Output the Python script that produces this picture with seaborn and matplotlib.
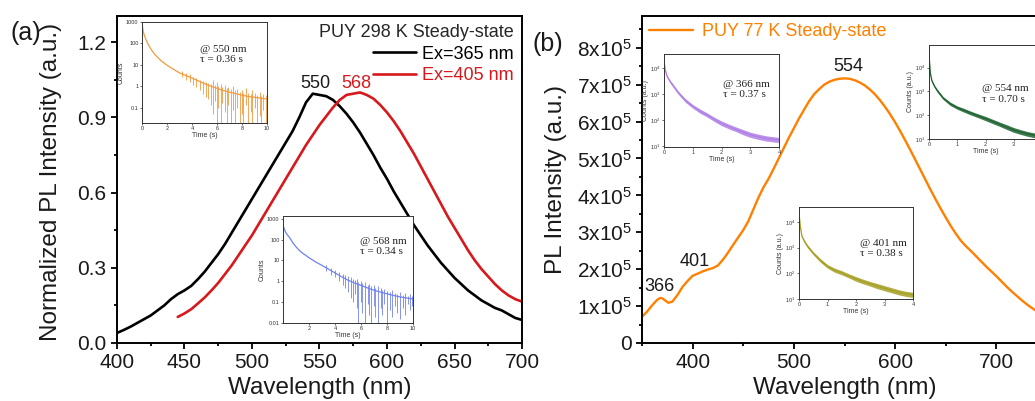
import numpy as np
import pandas as pd
import matplotlib
matplotlib.use("Agg")
import matplotlib.pyplot as plt
from matplotlib.ticker import MultipleLocator, FixedLocator, FuncFormatter, NullLocator
import seaborn as sns

# ---------------- data ----------------
# panel (a): normalized PL at 298 K
wl_black = [400, 405, 410, 415, 420, 425, 430, 435, 440, 445, 450, 455, 460, 465, 470, 475, 480, 485, 490, 495,
            500, 505, 510, 515, 520, 525, 530, 535, 540, 545, 550, 555, 560, 565, 570, 575, 580, 585, 590, 595,
            600, 605, 610, 615, 620, 625, 630, 635, 640, 645, 650, 655, 660, 665, 670, 675, 680, 685, 690, 695, 700]
pl_black = [0.040, 0.052, 0.065, 0.080, 0.095, 0.110, 0.130, 0.150, 0.175, 0.195, 0.210, 0.228, 0.255, 0.285, 0.320,
            0.355, 0.395, 0.440, 0.485, 0.530, 0.575, 0.620, 0.665, 0.710, 0.755, 0.800, 0.845, 0.900, 0.960, 0.995,
            0.990, 0.985, 0.970, 0.945, 0.915, 0.880, 0.840, 0.795, 0.750, 0.700, 0.655, 0.605, 0.560, 0.515, 0.470,
            0.430, 0.390, 0.355, 0.320, 0.290, 0.260, 0.235, 0.210, 0.190, 0.170, 0.155, 0.140, 0.130, 0.115, 0.100, 0.092]
wl_red = [445, 450, 455, 460, 465, 470, 475, 480, 485, 490, 495, 500, 505, 510, 515, 520, 525, 530, 535, 540,
          545, 550, 555, 560, 565, 570, 575, 580, 585, 590, 595, 600, 605, 610, 615, 620, 625, 630, 635, 640,
          645, 650, 655, 660, 665, 670, 675, 680, 685, 690, 695, 700]
pl_red = [0.104, 0.118, 0.135, 0.158, 0.182, 0.210, 0.240, 0.275, 0.310, 0.350, 0.390, 0.430, 0.475, 0.520, 0.565,
          0.610, 0.655, 0.700, 0.745, 0.790, 0.830, 0.870, 0.905, 0.940, 0.970, 0.990, 0.995, 1.000, 0.990, 0.975,
          0.950, 0.920, 0.885, 0.845, 0.800, 0.755, 0.705, 0.655, 0.605, 0.555, 0.505, 0.460, 0.415, 0.370, 0.330,
          0.295, 0.265, 0.235, 0.210, 0.190, 0.175, 0.165]

# panel (b): PL at 77 K (units of 1e5)
wl_orange = [350, 355, 360, 365, 368, 370, 373, 376, 380, 385, 390, 395, 400, 405, 410, 415, 420, 425, 430, 435,
             440, 445, 450, 455, 460, 465, 470, 475, 480, 485, 490, 495, 500, 505, 510, 515, 520, 525, 530, 535,
             540, 545, 550, 555, 560, 565, 570, 575, 580, 585, 590, 595, 600, 605, 610, 615, 620, 625, 630, 635,
             640, 645, 650, 655, 660, 665, 670, 675, 680, 685, 690, 695, 700, 705, 710, 715, 720, 725, 730, 735,
             740, 745, 750]
pl_orange_1e5 = [0.71, 0.85, 1.02, 1.17, 1.22, 1.21, 1.15, 1.09, 1.12, 1.30, 1.52, 1.68, 1.82, 1.88, 1.94, 1.99,
                 2.03, 2.10, 2.26, 2.45, 2.66, 2.86, 3.06, 3.30, 3.62, 3.94, 4.22, 4.45, 4.72, 5.00, 5.28, 5.56,
                 5.82, 6.08, 6.32, 6.55, 6.74, 6.88, 7.00, 7.08, 7.13, 7.16, 7.17, 7.16, 7.12, 7.06, 6.98, 6.87,
                 6.74, 6.58, 6.40, 6.20, 5.98, 5.74, 5.49, 5.23, 4.96, 4.69, 4.42, 4.15, 3.89, 3.64, 3.40, 3.17,
                 2.96, 2.77, 2.62, 2.49, 2.35, 2.21, 2.07, 1.94, 1.81, 1.67, 1.53, 1.40, 1.28, 1.16, 1.05, 0.95,
                 0.86, 0.78, 0.71]

# decay insets (log10 counts)
t_long = [0, 0.05, 0.1, 0.2, 0.3, 0.5, 0.75, 1.0, 1.25, 1.5, 2.0, 2.5, 3.0, 3.5, 4.0, 4.5, 5.0, 5.5, 6.0, 6.5,
          7.0, 7.5, 8.0, 8.5, 9.0, 9.5, 10]
log_550 = [3.0, 2.75, 2.55, 2.35, 2.2, 1.95, 1.7, 1.5, 1.35, 1.2, 0.98, 0.8, 0.62, 0.5, 0.38, 0.25, 0.12, 0.0,
           -0.1, -0.2, -0.28, -0.35, -0.42, -0.48, -0.52, -0.56, -0.6]
log_568 = [2.75, 2.6, 2.5, 2.35, 2.25, 2.1, 1.85, 1.65, 1.48, 1.35, 1.13, 0.93, 0.76, 0.58, 0.4, 0.22, 0.05, -0.08,
           -0.2, -0.32, -0.43, -0.52, -0.6, -0.68, -0.75, -0.8, -0.85]
spk550_t = [3.2, 3.5, 3.8, 4.1, 4.3, 4.6, 4.9, 5.1, 5.3, 5.5, 5.7, 5.8, 6.0, 6.1, 6.3, 6.4, 6.6, 6.8, 6.9, 7.1,
            7.3, 7.4, 7.6, 7.8, 8.0, 8.1, 8.3, 8.5, 8.7, 8.8, 9.0, 9.2, 9.4, 9.5, 9.7, 9.9]
spk550_lo = [0.45, 0.3, 0.2, 0.05, -0.05, -0.2, -0.35, -0.5, -0.6, -0.9, -1.3, -0.7, -1.7, -1.0, -1.7, -0.8, -1.2,
             -1.7, -0.9, -1.7, -1.1, -1.7, -1.0, -1.7, -1.3, -1.7, -0.9, -1.7, -1.2, -1.7, -1.0, -1.7, -1.4, -1.7,
             -1.1, -1.7]
spk550_hi = [0.72, 0.62, 0.55, 0.45, 0.4, 0.3, 0.25, 0.2, 0.15, 0.1, 0.3, 0.05, 0.2, 0.0, 0.1, -0.05, 0.05, -0.1,
             -0.05, -0.15, 0.0, -0.2, -0.15, -0.25, -0.2, -0.3, -0.1, -0.3, -0.35, -0.2, -0.3, -0.4, -0.25, -0.45,
             -0.35, -0.4]
spk568_t = [3.3, 3.7, 4.0, 4.3, 4.6, 4.8, 5.0, 5.2, 5.4, 5.5, 5.7, 5.8, 6.0, 6.1, 6.3, 6.5, 6.6, 6.8, 7.0, 7.1,
            7.3, 7.5, 7.6, 7.8, 8.0, 8.2, 8.4, 8.6, 8.8, 9.0, 9.2, 9.4, 9.6, 9.8, 9.95]
spk568_lo = [0.5, 0.3, 0.2, 0.0, -0.2, -0.3, -0.5, -0.8, -1.0, -0.6, -1.3, -2.0, -1.0, -1.5, -2.0, -1.1, -1.6, -2.0,
             -1.2, -1.7, -2.0, -1.3, -1.6, -1.1, -2.0, -1.4, -1.7, -1.2, -1.5, -1.8, -1.3, -1.6, -1.1, -1.4, -1.2]
spk568_hi = [0.8, 0.65, 0.55, 0.45, 0.35, 0.3, 0.25, 0.2, 0.1, 0.05, 0.1, -0.05, 0.0, -0.1, -0.05, -0.2, -0.15,
             -0.25, -0.2, -0.3, -0.25, -0.3, -0.4, -0.35, -0.45, -0.5, -0.4, -0.55, -0.6, -0.5, -0.65, -0.55, -0.7,
             -0.6, -0.7]

t_short = [0, 0.02, 0.05, 0.1, 0.2, 0.3, 0.5, 0.75, 1.0, 1.25, 1.5, 1.75, 2.0, 2.25, 2.5, 2.75, 3.0, 3.25, 3.5,
           3.75, 4.0]
log_366 = [4.5, 4.1, 3.9, 3.7, 3.5, 3.35, 3.05, 2.75, 2.53, 2.35, 2.2, 2.03, 1.88, 1.76, 1.65, 1.54, 1.44, 1.37,
           1.31, 1.27, 1.24]
log_554 = [4.85, 4.2, 3.75, 3.45, 3.2, 3.02, 2.72, 2.48, 2.32, 2.2, 2.08, 1.97, 1.86, 1.74, 1.62, 1.5, 1.38, 1.29,
           1.21, 1.15, 1.1]
log_401 = [4.5, 4.1, 3.8, 3.45, 3.22, 3.05, 2.78, 2.5, 2.27, 2.12, 2.02, 1.9, 1.78, 1.68, 1.59, 1.5, 1.42, 1.34,
           1.26, 1.2, 1.16]
noise_halfwidth = [0.0, 0.02, 0.03, 0.04, 0.05, 0.06, 0.06, 0.07, 0.07, 0.08, 0.08, 0.08, 0.09, 0.09, 0.09, 0.1,
                   0.1, 0.1, 0.1, 0.1, 0.1]

# ---------------- style ----------------
sns.set_theme(style="ticks")
plt.rcParams['font.family'] = ['Liberation Sans', 'DejaVu Sans']
plt.rcParams['mathtext.fontset'] = 'custom'
plt.rcParams['mathtext.rm'] = 'Liberation Sans'
plt.rcParams['mathtext.it'] = 'Liberation Sans:italic'
plt.rcParams['mathtext.bf'] = 'Liberation Sans:bold'

W, H = 1035, 401
fig = plt.figure(figsize=(W / 100, H / 100), dpi=100)


def box(l, t, r, b):
    return [l / W, 1 - b / H, (r - l) / W, (b - t) / H]


def style_main(ax):
    for s in ax.spines.values():
        s.set_visible(True)
        s.set_color('black')
        s.set_linewidth(1.4)
    ax.tick_params(which='both', direction='out', color='black', width=1.3, labelsize=15,
                   labelcolor='#1a1a1a', top=False, right=False)
    ax.tick_params(which='major', length=4.5, pad=3)
    ax.tick_params(which='minor', length=2.5)


ORANGE = '#FF8000'
RED = '#D7191C'

# ---------------- panel (a) ----------------
axA = fig.add_axes(box(117, 16, 522, 343))
sns.lineplot(x=wl_black, y=pl_black, ax=axA, color='black', lw=1.9, label='Ex=365 nm')
sns.lineplot(x=wl_red, y=pl_red, ax=axA, color=RED, lw=1.9, label='Ex=405 nm')
axA.set_xlim(400, 700)
axA.set_ylim(0, 1.305)
axA.xaxis.set_major_locator(MultipleLocator(50))
axA.xaxis.set_minor_locator(MultipleLocator(25))
axA.yaxis.set_major_locator(MultipleLocator(0.3))
axA.yaxis.set_minor_locator(MultipleLocator(0.15))
axA.yaxis.set_major_formatter(FuncFormatter(lambda v, p: f"{v:.1f}"))
style_main(axA)
axA.set_xlabel('Wavelength (nm)', fontsize=17.5, color='#1a1a1a')
axA.set_ylabel('Normalized PL Intensity (a.u.)', fontsize=17.5, color='#1a1a1a')
axA.yaxis.set_label_coords(-0.136, 0.494)
axA.xaxis.set_label_coords(0.5, -0.105)
leg = axA.legend(title='PUY 298 K Steady-state', loc='upper right', frameon=False, fontsize=13,
                 title_fontsize=13, alignment='right', handlelength=2.4, handletextpad=0.35,
                 labelspacing=0.25, borderaxespad=0.15, borderpad=0.3)
for txt, col in zip(leg.get_texts(), ['black', RED]):
    txt.set_color(col)
axA.text(547, 1.037, '550', ha='center', va='center', fontsize=13, color='#1a1a1a')
axA.text(577, 1.037, '568', ha='center', va='center', fontsize=13, color=RED)

# ---------------- panel (b) ----------------
axB = fig.add_axes(box(642, 16, 1047, 343))
sns.lineplot(x=wl_orange, y=np.array(pl_orange_1e5) * 1e5, ax=axB, color=ORANGE, lw=1.7,
             label='PUY 77 K Steady-state')
axB.set_xlim(350, 750)
axB.set_ylim(0, 8.86e5)
axB.xaxis.set_major_locator(MultipleLocator(100))
axB.xaxis.set_minor_locator(MultipleLocator(50))
axB.yaxis.set_major_locator(MultipleLocator(1e5))
axB.yaxis.set_minor_locator(MultipleLocator(0.5e5))


def sci_fmt(v, p):
    n = int(round(v / 1e5))
    return '0' if n == 0 else f"{n}x10$^5$"


axB.yaxis.set_major_formatter(FuncFormatter(sci_fmt))
style_main(axB)
axB.set_xlabel('Wavelength (nm)', fontsize=17.5, color='#1a1a1a')
axB.set_ylabel('PL Intensity (a.u.)', fontsize=17.5, color='#1a1a1a')
axB.yaxis.set_label_coords(-0.185, 0.5)
axB.xaxis.set_label_coords(0.5, -0.105)
legB = axB.legend(loc='upper left', frameon=False, fontsize=13, handlelength=2.4, handletextpad=0.5,
                  borderaxespad=0.1, borderpad=0.3)
for txt in legB.get_texts():
    txt.set_color(ORANGE)
axB.text(554, 7.5e5, '554', ha='center', va='center', fontsize=13, color='#1a1a1a')
axB.text(367, 1.52e5, '366', ha='center', va='center', fontsize=13, color='#1a1a1a')
axB.text(402, 2.2e5, '401', ha='center', va='center', fontsize=13, color='#1a1a1a')

fig.text(10 / W, 1 - 33 / H, '(a)', fontsize=18, ha='left', va='center', color='#1a1a1a')
fig.text(533 / W, 1 - 44 / H, '(b)', fontsize=18, ha='left', va='center', color='#1a1a1a')


# ---------------- insets ----------------
def style_inset(ax, ylabel):
    ax.set_facecolor('white')
    for s in ax.spines.values():
        s.set_visible(True)
        s.set_color('#333333')
        s.set_linewidth(0.7)
    ax.tick_params(which='both', direction='out', length=1.5, width=0.5, labelsize=4, pad=1,
                   color='#333333', labelcolor='#333333', top=False, right=False)
    ax.yaxis.set_minor_locator(NullLocator())
    ax.set_xlabel('Time (s)', fontsize=5, labelpad=0.5, color='#333333')
    ax.set_ylabel(ylabel, fontsize=5, labelpad=1, color='#333333')


def inset_text(ax, x, y, lines):
    ax.text(x, y, lines, transform=ax.transAxes, ha='left', va='top', fontsize=8, linespacing=1.15,
            family=['Liberation Serif', 'DejaVu Serif'], color='#222222')


# inset 1: 550 nm
in1 = fig.add_axes(box(142, 22, 267, 123))
sns.lineplot(x=t_long, y=10 ** np.array(log_550), ax=in1, color='#F39A3C', lw=0.9)
in1.vlines(spk550_t, 10 ** np.array(spk550_lo), 10 ** np.array(spk550_hi), color='#F39A3C', lw=0.6)
in1.set_yscale('log')
in1.set_xlim(0, 10)
in1.set_ylim(0.019, 1000)
in1.xaxis.set_major_locator(FixedLocator([0, 2, 4, 6, 8, 10]))
in1.yaxis.set_major_locator(FixedLocator([0.1, 1, 10, 100, 1000]))
in1.set_yticklabels(['0.1', '1', '10', '100', '1000'])
style_inset(in1, 'Counts')
inset_text(in1, 0.46, 0.77, '@ 550 nm\nτ = 0.36 s')

# inset 2: 568 nm
in2 = fig.add_axes(box(283, 216, 413, 323))
sns.lineplot(x=t_long, y=10 ** np.array(log_568), ax=in2, color='#6F82F0', lw=0.9)
in2.vlines(spk568_t, 10 ** np.array(spk568_lo), 10 ** np.array(spk568_hi), color='#6F82F0', lw=0.6)
in2.set_yscale('log')
in2.set_xlim(0, 10)
in2.set_ylim(0.01, 1340)
in2.xaxis.set_major_locator(FixedLocator([2, 4, 6, 8, 10]))
in2.yaxis.set_major_locator(FixedLocator([0.01, 0.1, 1, 10, 100, 1000]))
in2.set_yticklabels(['0.01', '0.1', '1', '10', '100', '1000'])
style_inset(in2, 'Counts')
inset_text(in2, 0.59, 0.8, '@ 568 nm\nτ = 0.34 s')


def short_inset(rect, logv, color, ylim, text, tx, ty):
    ax = fig.add_axes(box(*rect))
    lv = np.array(logv)
    hw = np.array(noise_halfwidth)
    ax.fill_between(t_short, 10 ** (lv - hw), 10 ** (lv + hw), color=color, lw=0, alpha=0.85)
    sns.lineplot(x=t_short, y=10 ** lv, ax=ax, color=color, lw=0.9)
    ax.set_yscale('log')
    ax.set_xlim(0, 4)
    ax.set_ylim(*ylim)
    ax.xaxis.set_major_locator(FixedLocator([0, 1, 2, 3, 4]))
    ax.yaxis.set_major_locator(FixedLocator([10, 100, 1000, 10000]))
    ax.set_yticklabels(['$10^1$', '$10^2$', '$10^3$', '$10^4$'])
    style_inset(ax, 'Counts (a.u.)')
    inset_text(ax, tx, ty, text)
    return ax


short_inset((664, 54, 779, 147), log_366, '#B07FE6', (10 ** 0.97, 10 ** 4.54), '@ 366 nm\nτ = 0.37 s', 0.51, 0.72)
short_inset((929, 45, 1042, 139), log_554, '#1E6431', (10, 10 ** 4.95), '@ 554 nm\nτ = 0.70 s', 0.47, 0.58)
short_inset((799, 207, 913, 299), log_401, '#A6A024', (10, 10 ** 4.58), '@ 401 nm\nτ = 0.38 s', 0.535, 0.65)

fig.savefig('out.png', dpi=100)
